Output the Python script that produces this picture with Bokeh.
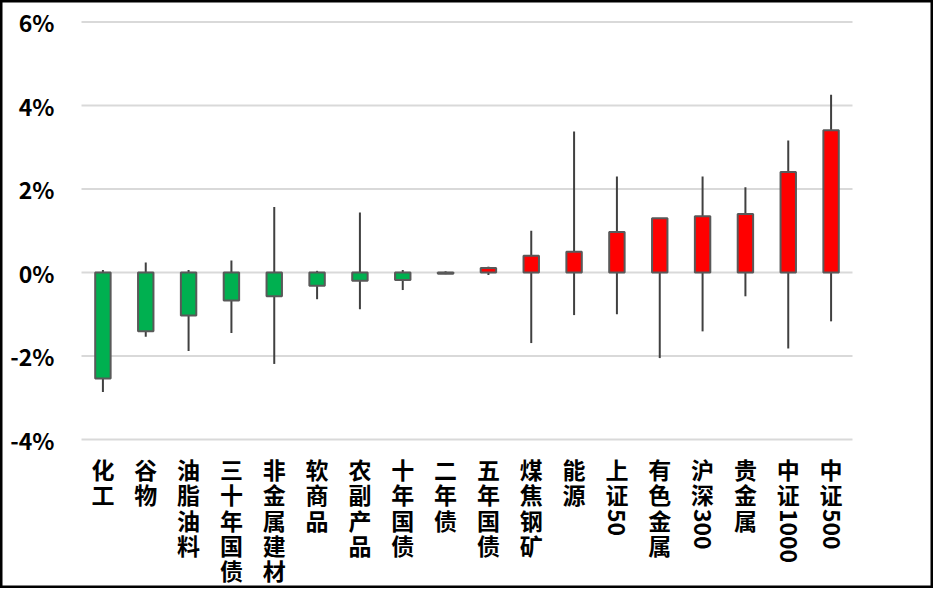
import math
from bokeh.plotting import figure
from bokeh.models import FactorRange, Range1d, ColumnDataSource
from bokeh.core.properties import value
from bokeh.embed import file_html
from bokeh.resources import INLINE

# ---- data -------------------------------------------------------------
categories = ["化工", "谷物", "油脂油料", "三十年国债", "非金属建材", "软商品", "农副产品",
              "十年国债", "二年债", "五年国债", "煤焦钢矿", "能源", "上证50", "有色金属",
              "沪深300", "贵金属", "中证1000", "中证500"]
change = [-2.54, -1.41, -1.03, -0.67, -0.57, -0.32, -0.20, -0.18, -0.03, 0.11,
          0.40, 0.50, 0.97, 1.30, 1.35, 1.40, 2.41, 3.41]
high = [0.06, 0.24, 0.06, 0.29, 1.57, 0.04, 1.44, 0.06, 0.03, 0.14,
        1.00, 3.38, 2.30, 1.30, 2.30, 2.04, 3.16, 4.26]
low = [-2.86, -1.54, -1.88, -1.45, -2.19, -0.64, -0.88, -0.42, -0.04, -0.06,
       -1.69, -1.02, -1.00, -2.05, -1.41, -0.57, -1.82, -1.17]
y_ticks = [-4, -2, 0, 2, 4, 6]
y_tick_labels = ["-4%", "-2%", "0%", "2%", "4%", "6%"]

# ---- layout constants -------------------------------------------------
W, H = 933, 588
ZERO_PX = 272.0          # canvas y of 0%
PX_PER_UNIT = 41.75      # pixels per 1%
FRAME_LEFT, FRAME_RIGHT = 81.0, 852.0
band = (FRAME_RIGHT - FRAME_LEFT) / len(categories)
pad_units = FRAME_LEFT / band


def y_at(px):
    return (ZERO_PX - px) / PX_PER_UNIT


FONT = "Noto Sans CJK SC"
GREEN = "#00B050"
RED = "#FF0000"

p = figure(width=W, height=H, output_backend="svg", toolbar_location=None,
           x_range=FactorRange(factors=categories, range_padding=pad_units,
                               range_padding_units="absolute"),
           y_range=Range1d(y_at(H), y_at(0)),
           x_axis_type=None, y_axis_type=None,
           min_border=0, min_border_left=0, min_border_right=0,
           min_border_top=0, min_border_bottom=0,
           background_fill_color="white", border_fill_color="white")
p.outline_line_color = "black"
p.outline_line_width = 4

# gridlines
n = len(categories)
p.segment(x0=[0] * len(y_ticks), x1=[n] * len(y_ticks), y0=y_ticks, y1=y_ticks,
          line_color="#D9D9D9", line_width=2)

# y tick labels
p.text(x=[-pad_units + 54.0 / band] * len(y_ticks), y=y_ticks, text=y_tick_labels,
       text_font=value(FONT), text_font_style="bold", text_font_size="23px",
       text_align="right", text_baseline="middle", text_color="black")

# whiskers
src = ColumnDataSource(dict(
    cat=categories, change=change, high=high, low=low,
    color=[GREEN if v < 0 else RED for v in change],
))
p.segment(x0="cat", x1="cat", y0="low", y1="high", source=src,
          line_color="#404040", line_width=2)

# bodies
p.vbar(x="cat", top="change", bottom=0, width=0.36, source=src,
       fill_color="color", line_color="#595959", line_width=2)

# category labels (stacked vertical text, digits rotated)
ROW_TOP0 = 455.8
PITCH = 25.3
cj_x, cj_y, cj_t = [], [], []
dg_x, dg_y, dg_t = [], [], []
for cat in categories:
    row = 0
    i = 0
    while i < len(cat):
        ch = cat[i]
        if ch.isdigit():
            j = i
            while j < len(cat) and cat[j].isdigit():
                j += 1
            dg_x.append(cat)
            dg_y.append(y_at(ROW_TOP0 + PITCH * row + 2))
            dg_t.append(cat[i:j])
            i = j
        else:
            cj_x.append(cat)
            cj_y.append(y_at(ROW_TOP0 + PITCH * row + PITCH / 2))
            cj_t.append(ch)
            row += 1
            i += 1

p.text(x=cj_x, y=cj_y, text=cj_t, text_font=value(FONT), text_font_style="bold",
       text_font_size="23px", text_align="center", text_baseline="middle",
       text_color="black")
p.text(x=dg_x, y=dg_y, text=dg_t, angle=-math.pi / 2, text_font=value(FONT),
       text_font_style="bold", text_font_size="23px", text_align="left",
       text_baseline="middle", text_color="black")

open("out.html", "w").write(file_html(p, INLINE))
